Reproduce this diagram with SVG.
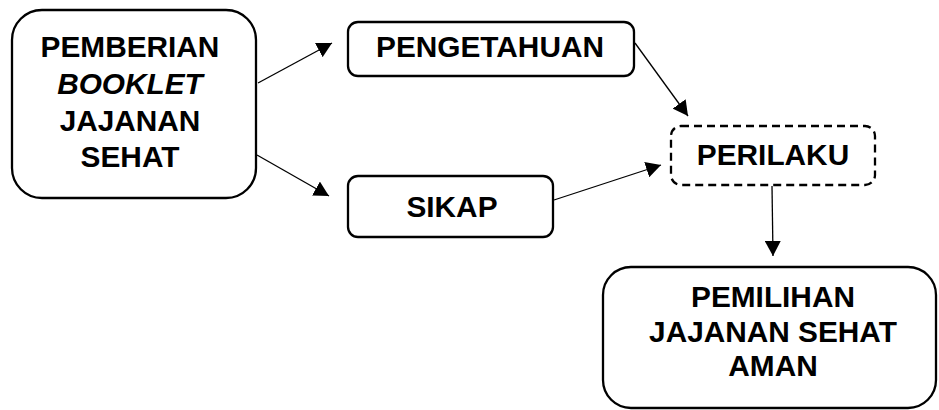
<svg xmlns="http://www.w3.org/2000/svg" width="939" height="410" viewBox="0 0 939 410">
<defs>
<style>
.box{fill:#fff;stroke:#000;stroke-width:2.3}
.dash{stroke-dasharray:8 5}
.t{font-family:"Liberation Sans",Arial,sans-serif;font-weight:bold;font-size:29.8px;fill:#000;text-anchor:middle}
.it{font-style:italic}
.c{stroke:#000;stroke-width:1.3;fill:none;marker-end:url(#ah)}
</style>
<marker id="ah" markerUnits="userSpaceOnUse" markerWidth="16" markerHeight="16" viewBox="0 0 16 16" refX="15" refY="8" orient="auto">
<path d="M0,0 L15,8 L0,16 Z" fill="#000"/>
</marker>
</defs>
<rect width="939" height="410" fill="#fff"/>
<g id="connectors">
<line class="c" x1="258" y1="83" x2="332" y2="43"/>
<line class="c" x1="257" y1="155" x2="329" y2="196"/>
<line class="c" x1="635" y1="43" x2="688" y2="116"/>
<line class="c" x1="554" y1="200" x2="661" y2="165"/>
<line class="c" x1="772" y1="186" x2="773" y2="256"/>
</g>
<g id="pemberian">
<rect class="box" x="12" y="10" width="244" height="188" rx="30" ry="30"/>
<text class="t" x="130" y="57">PEMBERIAN</text>
<text class="t it" x="130" y="93.5">BOOKLET</text>
<text class="t" x="130" y="131">JAJANAN</text>
<text class="t" x="130" y="167">SEHAT</text>
</g>
<g id="pengetahuan">
<rect class="box" x="348" y="22" width="286" height="54" rx="10" ry="10"/>
<text class="t" x="490" y="57">PENGETAHUAN</text>
</g>
<g id="sikap">
<rect class="box" x="348" y="176" width="205" height="61" rx="10" ry="10"/>
<text class="t" x="452" y="217">SIKAP</text>
</g>
<g id="perilaku">
<rect class="box dash" x="671" y="126" width="204" height="59" rx="10" ry="10"/>
<text class="t" x="773" y="165">PERILAKU</text>
</g>
<g id="pemilihan">
<rect class="box" x="603" y="267" width="333" height="141" rx="28" ry="28"/>
<text class="t" x="773" y="307">PEMILIHAN</text>
<text class="t" x="773" y="342">JAJANAN SEHAT</text>
<text class="t" x="773" y="376">AMAN</text>
</g>
</svg>
